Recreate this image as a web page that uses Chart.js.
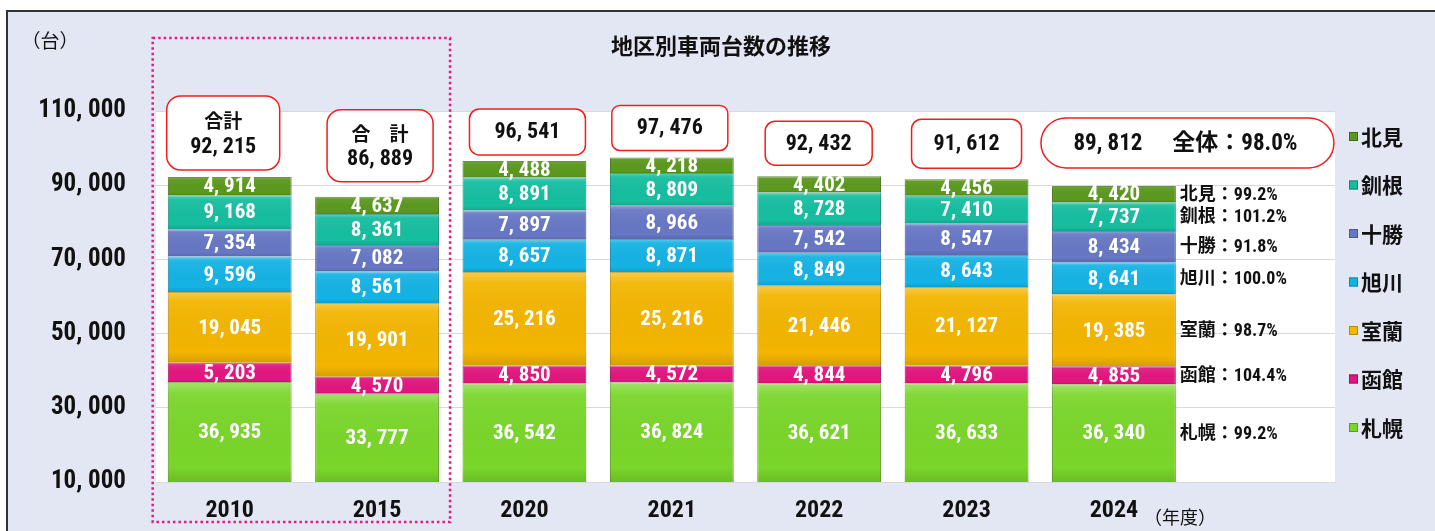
<!DOCTYPE html>
<html>
<head>
<meta charset="utf-8">
<script src="https://cdn.jsdelivr.net/npm/chart.js@4.4.1/dist/chart.umd.min.js"></script>
<style>
  html, body { margin: 0; padding: 0; background: #fff; }
  canvas { display: block; }
</style>
</head>
<body>
<canvas id="regionChart" width="1435" height="531"></canvas>
<script>
// 年度と地区
const years = ['2010', '2015', '2020', '2021', '2022', '2023', '2024'];
const regions = ['札幌', '函館', '室蘭', '旭川', '十勝', '釧根', '北見'];

// 地区別台数
const sapporo   = [36935, 33777, 36542, 36824, 36621, 36633, 36340];
const hakodate  = [5203, 4570, 4850, 4572, 4844, 4796, 4855];
const muroran   = [19045, 19901, 25216, 25216, 21446, 21127, 19385];
const asahikawa = [9596, 8561, 8657, 8871, 8849, 8643, 8641];
const tokachi   = [7354, 7082, 7897, 8966, 7542, 8547, 8434];
const kushiro   = [9168, 8361, 8891, 8809, 8728, 7410, 7737];
const kitami    = [4914, 4637, 4488, 4218, 4402, 4456, 4420];

// 合計と前年比
const totals = [92215, 86889, 96541, 97476, 92432, 91612, 89812];
const totalHeads = ['合計', '合　計', '', '', '', '', ''];
const ratios2024 = ['99.2%', '104.4%', '98.7%', '100.0%', '91.8%', '101.2%', '99.2%'];
const overallRatio = '98.0%';

const yMin = 10000, yMax = 110000, yStep = 20000;

const colors  = ['#7AD62A', '#E2167E', '#F3B500', '#15B3E4', '#6777C4', '#16BEA0', '#5B991E'];
const borders = ['#5E9E22', '#A3105A', '#B98A00', '#0E86AB', '#4A5796', '#0F8A74', '#3F6B14'];

const NUM = '"Roboto Condensed", "Liberation Sans Narrow", Roboto, "Noto Sans CJK JP", sans-serif';
const JP = '"Noto Sans CJK JP", sans-serif';

const fmt = v => v.toLocaleString('en-US').replace(/,/g, ', ');

const seriesList = [sapporo, hakodate, muroran, asahikawa, tokachi, kushiro, kitami];

// 合計ボックス [中心からのdx, 幅, 棒との間隔, 高さ, 角丸]
const boxLayout = [
  [-63, 113, 7, 74, 14],
  [-50, 106, 15, 72, 14],
  [-55, 116, 6, 46, 10],
  [-60, 116, 7, 45, 8],
  [-54, 107, 11, 44, 10],
  [-55, 110, 11, 49, 10],
  [-73, 293, 18, 50, 25]
];

const decorPlugin = {
  id: 'decor',
  beforeDraw(chart) {
    const { ctx, chartArea: a } = chart;
    ctx.save();
    ctx.fillStyle = '#ffffff';
    ctx.fillRect(0, 0, chart.width, chart.height);
    ctx.fillStyle = '#E3E7F3';
    ctx.fillRect(8, 12, chart.width - 8, chart.height - 12);
    ctx.strokeStyle = '#333';
    ctx.lineWidth = 2;
    ctx.beginPath();
    ctx.moveTo(7, chart.height);
    ctx.lineTo(7, 11);
    ctx.lineTo(chart.width, 11);
    ctx.stroke();
    ctx.fillStyle = '#ffffff';
    ctx.fillRect(a.left, a.top, a.right - a.left, a.bottom - a.top);
    ctx.restore();
  },
  afterDatasetsDraw(chart) {
    const { ctx, chartArea: a } = chart;
    const yScale = chart.scales.y;
    ctx.save();
    ctx.beginPath();
    ctx.rect(a.left, a.top - 200, a.right - a.left, a.bottom - a.top + 200);
    ctx.clip();

    // 立体感
    chart.data.datasets.forEach((ds, di) => {
      chart.getDatasetMeta(di).data.forEach(el => {
        const top = el.y, bot = Math.min(el.base, a.bottom);
        const l = el.x - el.width / 2, w = el.width;
        const g = ctx.createLinearGradient(0, top, 0, bot);
        g.addColorStop(0, 'rgba(255,255,255,0.30)');
        g.addColorStop(0.12, 'rgba(255,255,255,0.06)');
        g.addColorStop(0.85, 'rgba(0,0,0,0.00)');
        g.addColorStop(1, 'rgba(0,0,0,0.12)');
        ctx.fillStyle = g;
        ctx.fillRect(l, top, w, bot - top);
      });
    });
    ctx.restore();

    // 値ラベル
    ctx.save();
    ctx.fillStyle = '#ffffff';
    ctx.textAlign = 'center';
    ctx.textBaseline = 'middle';
    ctx.font = 'bold 21px ' + NUM;
    chart.data.datasets.forEach((ds, di) => {
      chart.getDatasetMeta(di).data.forEach((el, i) => {
        const top = Math.max(el.y, a.top), bot = Math.min(el.base, a.bottom);
        ctx.fillText(fmt(ds.data[i]), el.x, (top + bot) / 2 + 1);
      });
    });

    // 2024 前年比
    ctx.fillStyle = '#111';
    ctx.textAlign = 'left';
    ctx.font = 'bold 18px ' + NUM;
    chart.data.datasets.forEach((ds, di) => {
      const el = chart.getDatasetMeta(di).data[years.length - 1];
      const top = Math.max(el.y, a.top), bot = Math.min(el.base, a.bottom);
      ctx.fillText(regions[di] + '：' + ratios2024[di], el.x + el.width / 2 + 4, (top + bot) / 2 + 1);
    });

    // 合計ボックス
    const lastMeta = chart.getDatasetMeta(0);
    totals.forEach((t, i) => {
      const cx = lastMeta.data[i].x;
      const barTop = yScale.getPixelForValue(t);
      const [dx, w, gap, h, r] = boxLayout[i];
      const x = cx + dx, y = barTop - gap - h;
      ctx.beginPath();
      ctx.roundRect(x, y, w, h, r);
      ctx.fillStyle = '#ffffff';
      ctx.fill();
      ctx.strokeStyle = '#F21E1E';
      ctx.lineWidth = 1.5;
      ctx.stroke();
      ctx.fillStyle = '#111';
      ctx.textBaseline = 'middle';
      ctx.textAlign = 'center';
      if (totalHeads[i]) {
        ctx.font = 'bold 19px ' + JP;
        ctx.fillText(totalHeads[i], x + w / 2, y + h * 0.34);
        ctx.font = 'bold 22px ' + NUM;
        ctx.fillText(fmt(t), x + w / 2, y + h * 0.69);
      } else if (i === years.length - 1) {
        ctx.font = 'bold 23px ' + NUM;
        ctx.fillText(fmt(t), x + 67, y + h / 2 + 1);
        ctx.fillText('全体：' + overallRatio, x + 194, y + h / 2 + 1);
      } else {
        ctx.font = 'bold 22px ' + NUM;
        ctx.fillText(fmt(t), x + w / 2, y + h / 2 + 1);
      }
    });
    ctx.restore();
  },
  afterDraw(chart) {
    const { ctx } = chart;
    ctx.save();
    // タイトル・単位
    ctx.fillStyle = '#111';
    ctx.textAlign = 'center';
    ctx.textBaseline = 'middle';
    ctx.font = 'bold 22px ' + JP;
    ctx.fillText('地区別車両台数の推移', 721, 46);
    ctx.font = '19px ' + JP;
    ctx.fillText('（台）', 50, 41);
    ctx.font = '18px ' + JP;
    ctx.fillText('（年度）', 1180, 517);

    // 点線枠 (2010・2015)
    const m = chart.getDatasetMeta(0).data;
    ctx.strokeStyle = '#E8187F';
    ctx.lineWidth = 2.5;
    ctx.setLineDash([2.5, 3]);
    const left = m[0].x - 77, right = m[1].x + 73;
    ctx.strokeRect(left, 38, right - left, 484);
    ctx.setLineDash([]);

    // 凡例
    for (let k = regions.length - 1; k >= 0; k--) {
      const y = 137 + (regions.length - 1 - k) * 48.5;
      ctx.fillStyle = colors[k];
      ctx.fillRect(1349, y - 5, 9, 9);
      ctx.strokeStyle = borders[k];
      ctx.lineWidth = 1;
      ctx.strokeRect(1349.5, y - 4.5, 8, 8);
      ctx.fillStyle = '#111';
      ctx.textAlign = 'left';
      ctx.font = 'bold 21px ' + JP;
      ctx.fillText(regions[k], 1361, y);
    }
    ctx.restore();
  }
};

new Chart(document.getElementById('regionChart').getContext('2d'), {
  type: 'bar',
  data: {
    labels: [...years, ''],
    datasets: regions.map((name, i) => ({
      label: name,
      data: seriesList[i],
      backgroundColor: colors[i],
      borderColor: borders[i],
      borderWidth: 1,
      barPercentage: 0.84,
      categoryPercentage: 1
    }))
  },
  options: {
    responsive: false,
    animation: false,
    layout: { padding: { left: 0, right: 100, top: 111, bottom: 0 } },
    plugins: {
      legend: { display: false },
      title: { display: false },
      tooltip: { enabled: false }
    },
    scales: {
      x: {
        stacked: true,
        grid: { display: false },
        border: { color: '#D9D9D9' },
        ticks: { color: '#111', font: { family: NUM, size: 24, weight: 'bold' }, padding: 7 },
        afterFit: s => { s.height = 49; }
      },
      y: {
        stacked: true,
        min: yMin,
        max: yMax,
        grid: { color: '#D9D9D9', drawTicks: false },
        border: { display: false },
        ticks: {
          stepSize: yStep,
          padding: 30,
          color: '#111',
          font: { family: NUM, size: 25, weight: 'bold' },
          callback: v => fmt(v)
        },
        afterFit: s => { s.width = 156; }
      }
    }
  },
  plugins: [decorPlugin]
});
</script>
</body>
</html>
